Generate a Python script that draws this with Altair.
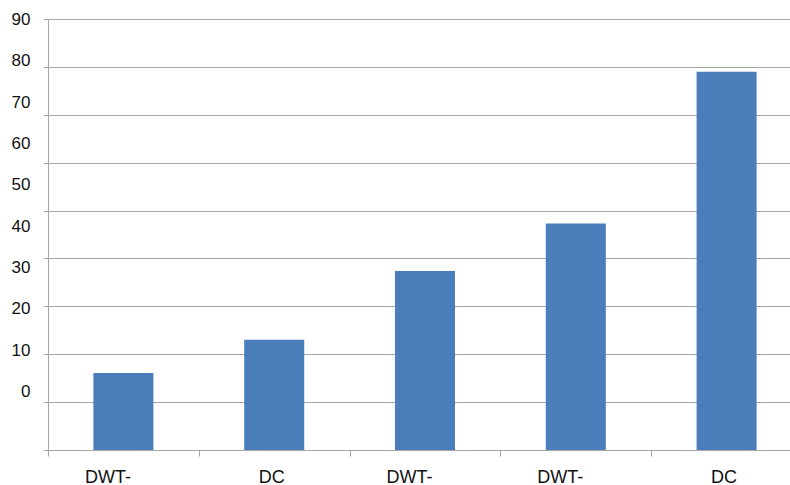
import json
import altair as alt
import pandas as pd

# ---- data ----
categories = ["DWT-", "DC", "DWT-", "DWT-", "DC"]
values = [16.1, 23.0, 37.4, 47.3, 79.0]
grid_values = [0, 10, 20, 30, 40, 50, 60, 70, 80, 90]
y_labels = [0, 10, 20, 30, 40, 50, 60, 70, 80, 90]

bars_df = pd.DataFrame({"idx": list(range(len(categories))), "value": values})
labels_df = pd.DataFrame({"v": y_labels})

cat_js = json.dumps(categories)
label_expr = f"{cat_js}[datum.value]"
dc_test = f"{cat_js}[datum.value] == 'DC'"

GRID = "#a6a6a6"
TEXT = "#111111"
FONT = "Liberation Sans"

bars = alt.Chart(bars_df).mark_bar(size=60, color="#4a7ebb").encode(
    x=alt.X(
        "idx:O",
        scale=alt.Scale(range=[0, 754], paddingInner=0, paddingOuter=0),
        axis=alt.Axis(
            title=None,
            labelExpr=label_expr,
            labelAngle=0,
            tickBand="extent",
            tickSize=6,
            tickColor=GRID,
            domainColor=GRID,
            labelFont=FONT,
            labelFontSize=18,
            labelColor=TEXT,
            labelPadding=12,
            labelOffset=alt.condition(dc_test, alt.value(-3), alt.value(-16)),
            grid=False,
        ),
    ),
    y=alt.Y(
        "value:Q",
        scale=alt.Scale(domain=[0, 90], nice=False, zero=True),
        axis=alt.Axis(
            title=None,
            values=grid_values,
            labels=False,
            ticks=True,
            tickSize=5,
            tickColor=GRID,
            domainColor=GRID,
            grid=True,
            gridColor=GRID,
            minExtent=0,
            maxExtent=5,
        ),
    ),
)

ylab = alt.Chart(labels_df).mark_point(opacity=0).encode(
    y=alt.Y(
        "v:Q",
        scale=alt.Scale(domain=[-14.1, 90.1], nice=False, zero=False),
        axis=alt.Axis(
            orient="left",
            title=None,
            values=y_labels,
            ticks=False,
            domain=False,
            grid=False,
            labelFont=FONT,
            labelFontSize=17,
            labelColor=TEXT,
            labelPadding=18,
            minExtent=0,
        ),
    ),
)

chart = (
    alt.layer(bars, ylab)
    .resolve_scale(y="independent")
    .properties(
        width=742,
        height=431,
        autosize=alt.AutoSizeParams(type="none"),
        padding={"left": 48, "top": 19, "right": 0, "bottom": 35},
        background="white",
    )
    .configure_view(stroke=None)
)

chart.save("out.html", embed_options={"renderer": "svg", "actions": False})
